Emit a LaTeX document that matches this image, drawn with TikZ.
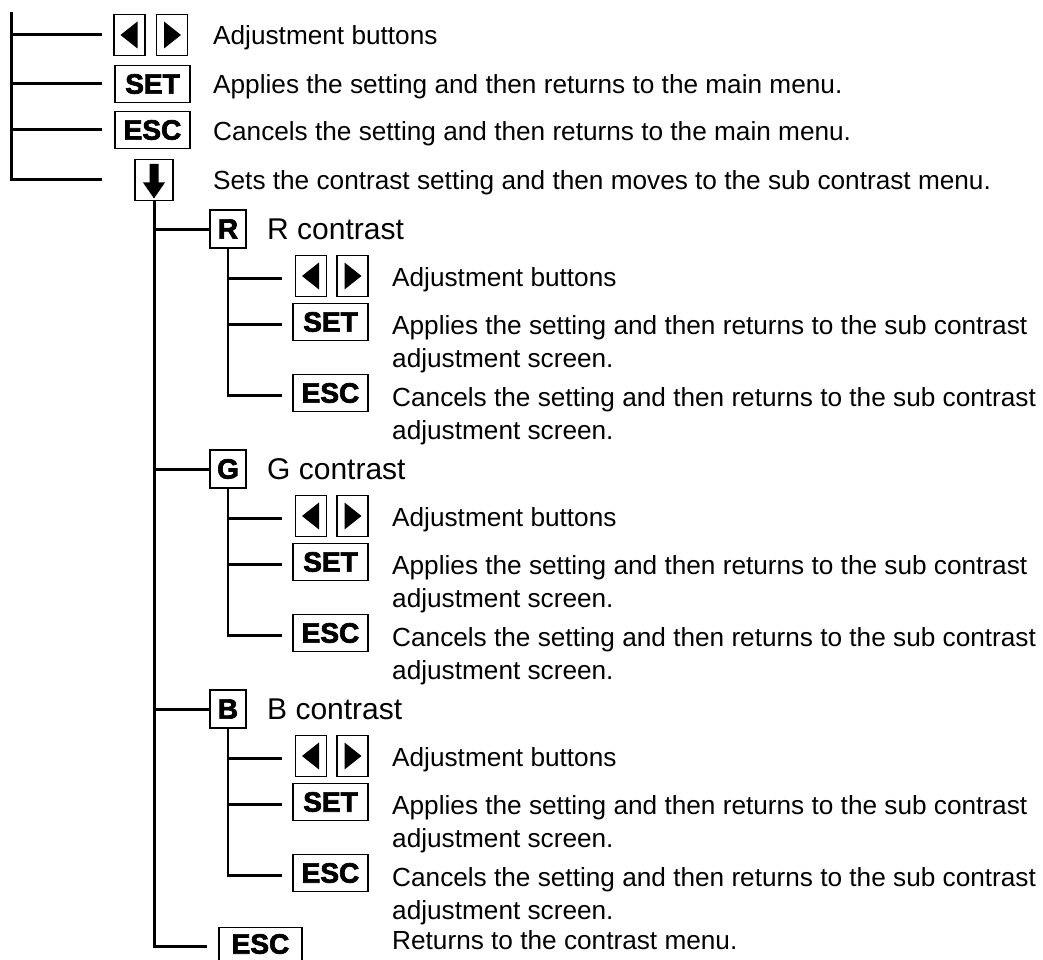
\documentclass[tikz,border=0pt]{standalone}
\usepackage{fontspec}
\setmainfont{Liberation Sans}
\newfontfamily\btnfont{Liberation Sans}[BoldFeatures={FakeBold=2.5}]
\begin{document}
\begin{tikzpicture}[x=1pt,y=-1pt,
  trunk/.style={line width=3pt},
  twig/.style={line width=1.5pt},
  keybase/.style={draw, line width=1.8pt, inner sep=0pt},
  keyfont/.style={font=\btnfont\bfseries\fontsize{28}{28}\selectfont},
  key/.style={keybase, keyfont, minimum width=75pt, minimum height=37pt},
  hkey/.style={keybase, keyfont, minimum width=36pt, minimum height=38pt},
  lkey/.style={keybase, minimum width=31pt, minimum height=41pt,
    path picture={\fill ([xshift=-9pt]path picture bounding box.center)
      -- ++(17pt,13.5pt) -- ++(0,-27pt) -- cycle;}},
  rkey/.style={keybase, minimum width=31pt, minimum height=41pt,
    path picture={\fill ([xshift=9pt]path picture bounding box.center)
      -- ++(-17pt,13.5pt) -- ++(0,-27pt) -- cycle;}},
  dkey/.style={keybase, minimum width=38pt, minimum height=41pt,
    path picture={\fill ([xshift=-4.5pt,yshift=16pt]path picture bounding box.center)
      -- ++(0,-18.5pt) -- ++(-6.5pt,0) -- ++(11pt,-16pt) -- ++(11pt,16pt)
      -- ++(-6.5pt,0) -- ++(0,18.5pt) -- cycle;}},
  txt/.style={anchor=base west, inner sep=0pt, font=\fontsize{26.2}{31}\selectfont},
  htxt/.style={anchor=base west, inner sep=0pt, font=\fontsize{30}{34}\selectfont},
]
\useasboundingbox (0,0) rectangle (1043,960);
\clip (0,0) rectangle (1043,960);

% ---------- level 0 ----------
\coordinate (v0top) at (11,12);
\coordinate (v0end) at (102,0);
\node[lkey] (l0) at (129.5,35) {};
\node[rkey] (r0) at (172,35) {};
\node[key] (s0) at (152.5,84) {SET};
\node[key] (e0) at (152.5,130) {ESC};
\node[dkey] (d0) at (154,180) {};
\node[txt] (tl0) at (213,44.5) {Adjustment buttons};
\node[txt] (ts0) at (213,93.5) {Applies the setting and then returns to the main menu.};
\node[txt] (te0) at (213,140.5) {Cancels the setting and then returns to the main menu.};
\node[txt] (td0) at (213,189.5) {Sets the contrast setting and then moves to the sub contrast menu.};
\draw[trunk] (v0top) |- (v0end |- d0);
\foreach \n in {l0,s0,e0} \draw[trunk] (v0top |- \n) -- (v0end |- \n);

% ---------- bottom ESC ----------
\coordinate (v1end) at (207,0);
\node[keybase, minimum width=83pt, minimum height=37pt] (eb) at (260.5,946) {};
\node[keyfont, inner sep=0pt] (ebt) at (260.5,944) {ESC};
\node[txt] (teb) at (392,949) {Returns to the contrast menu.};
\draw[trunk] (d0.south) |- (v1end |- eb);

% ---------- groups ----------
\coordinate (v2end) at (282,0);
\foreach \g/\h in {R/229,G/469,B/709}{
  \node[hkey] (h\g) at (228,\h) {\g};
  \node[htxt] (th\g) at (267,\h+10.5) {\g\ contrast};
  \draw[trunk] (d0.south |- h\g) -- (h\g.west);
  \node[lkey] (l\g) at (311,\h+47) {};
  \node[rkey] (r\g) at (352.5,\h+47) {};
  \node[key] (s\g) at (330.5,\h+93) {SET};
  \node[key] (e\g) at (330.5,\h+164) {ESC};
  \draw[twig] (h\g.south) -- ([yshift=-4pt]h\g.south |- e\g);
  \foreach \n in {l\g,s\g,e\g} \draw[trunk] ([yshift=-2pt]h\g.south |- \n) -- ([yshift=-2pt]v2end |- \n);
  \node[txt] (tl\g) at (392,\h+57.5) {Adjustment buttons};
  \node[txt] (ts\g) at (392,\h+105.5) {Applies the setting and then returns to the sub contrast};
  \node[txt] (ts\g b) at (392,\h+138.5) {adjustment screen.};
  \node[txt] (te\g) at (392,\h+177.5) {Cancels the setting and then returns to the sub contrast};
  \node[txt] (te\g b) at (392,\h+210.5) {adjustment screen.};
}
\end{tikzpicture}
\end{document}
